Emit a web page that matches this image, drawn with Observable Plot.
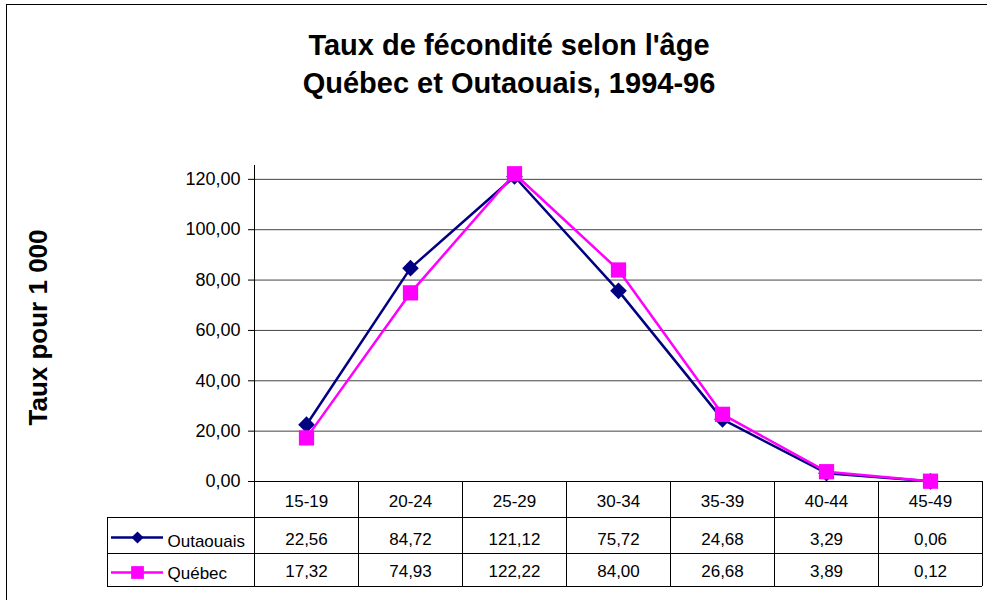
<!DOCTYPE html>
<html><head><meta charset="utf-8">
<script src="https://cdn.jsdelivr.net/npm/d3@7"></script>
<script src="https://cdn.jsdelivr.net/npm/@observablehq/plot@0.6"></script>
<style>
body{margin:0;background:#fff;}
#wrap{position:relative;width:987px;height:600px;overflow:hidden;font-family:"Liberation Sans",Arial,sans-serif;background:#fff;}
#frame{position:absolute;left:6px;top:4px;width:1000px;height:700px;border-left:1px solid #000;border-top:1px solid #000;}
#chart{position:absolute;left:0;top:0;}
.t{position:absolute;left:0;width:1018px;text-align:center;font-weight:bold;font-size:29px;line-height:29px;color:#000;white-space:nowrap;}
</style></head><body>
<div id="wrap"><div id="frame"></div><div id="chart"></div>
<div class="t" style="top:31px">Taux de fécondité selon l'âge</div>
<div class="t" style="top:69px">Québec et Outaouais, 1994-96</div>
</div>
<script>
const ageGroups = ["15-19", "20-24", "25-29", "30-34", "35-39", "40-44", "45-49"];
const outaouais = [22.56, 84.72, 121.12, 75.72, 24.68, 3.29, 0.06];
const quebec = [17.32, 74.93, 122.22, 84.00, 26.68, 3.89, 0.12];
const yTicks = [0, 20, 40, 60, 80, 100, 120];
const seriesNames = ["Outaouais", "Québec"];
const yTitle = "Taux pour 1 000";

const navy = "#000080", magenta = "#ff00ff";
const fmt = v => d3.format(".2f")(v).replace(".", ",");
const idx = (d, i) => i;
const boundaries = ageGroups.map((d, i) => i - 0.5).concat([ageGroups.length - 0.5]);

const plot = Plot.plot({
  width: 987, height: 600,
  marginLeft: 254, marginRight: 5, marginTop: 165, marginBottom: 119,
  style: {fontFamily: "'Liberation Sans', Arial, sans-serif", fontSize: "18px", color: "#000", background: "transparent", overflow: "visible"},
  x: {type: "linear", domain: [-0.5, ageGroups.length - 0.5], axis: null},
  y: {domain: [0, 125.5], ticks: yTicks, tickFormat: fmt, tickSize: 6, tickPadding: 8, label: null},
  marks: [
    Plot.ruleY(yTicks.slice(1), {y: d => d, stroke: "#444"}),
    Plot.ruleY([0], {stroke: "#000"}),
    Plot.ruleX([-0.5], {stroke: "#000"}),
    // data table grid
    Plot.ruleX(boundaries, {x: d => d, insetTop: 316, insetBottom: -105, stroke: "#000"}),
    Plot.ruleX([-0.5], {dx: -147, insetTop: 352, insetBottom: -105, stroke: "#000"}),
    Plot.ruleY([0], {dy: 36, insetLeft: -147, stroke: "#000"}),
    Plot.ruleY([0], {dy: 72, insetLeft: -147, stroke: "#000"}),
    Plot.ruleY([0], {dy: 105, insetLeft: -147, stroke: "#000"}),
    // series
    Plot.line(outaouais, {x: idx, y: d => d, stroke: navy, strokeWidth: 2.5}),
    Plot.dot(outaouais, {x: idx, y: d => d, symbol: "diamond2", r: 7.5, fill: navy, stroke: "none"}),
    Plot.line(quebec, {x: idx, y: d => d, stroke: magenta, strokeWidth: 2.5}),
    Plot.dot(quebec, {x: idx, y: d => d, symbol: "square", r: 8.6, fill: magenta, stroke: "none"}),
    // table header
    Plot.text(ageGroups, {x: idx, y: 0, dy: 20, text: d => d, fontSize: 17}),
    // table rows
    Plot.text(outaouais, {x: idx, y: 0, dy: 58, text: fmt, fontSize: 17}),
    Plot.text(quebec, {x: idx, y: 0, dy: 90, text: fmt, fontSize: 17}),
    // legend keys
    Plot.ruleY([0], {dy: 56, insetLeft: -143, insetRight: 819, stroke: navy, strokeWidth: 2.5}),
    Plot.dot([0], {x: -0.5, y: 0, dx: -117, dy: 56, symbol: "diamond2", r: 5.5, fill: navy, stroke: "none"}),
    Plot.ruleY([0], {dy: 91, insetLeft: -143, insetRight: 819, stroke: magenta, strokeWidth: 2.5}),
    Plot.dot([0], {x: -0.5, y: 0, dx: -117, dy: 91, symbol: "square", r: 7.2, fill: magenta, stroke: "none"}),
    Plot.text([seriesNames[0]], {x: -0.5, y: 0, dx: -87, dy: 60, text: d => d, textAnchor: "start", fontSize: 17}),
    Plot.text([seriesNames[1]], {x: -0.5, y: 0, dx: -87, dy: 92, text: d => d, textAnchor: "start", fontSize: 17}),
    // y title
    Plot.text([yTitle], {frameAnchor: "left", text: d => d, textAnchor: "middle", rotate: -90, dx: -216, dy: 4, fontSize: 26, fontWeight: "bold"})
  ]
});
document.getElementById("chart").appendChild(plot);
</script>
</body></html>
